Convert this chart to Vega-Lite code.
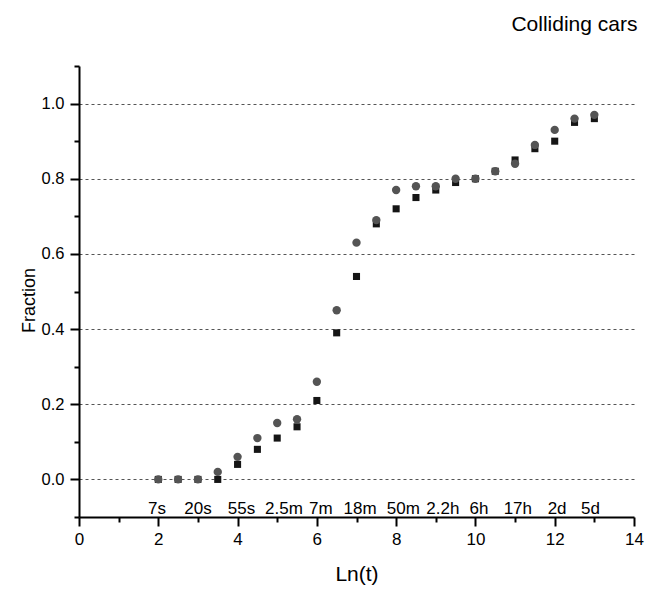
{
  "$schema": "https://vega.github.io/schema/vega-lite/v6.json",
  "autosize": {"type": "none"},
  "width": 555,
  "height": 451,
  "padding": {"left": 79, "top": 66, "right": 11, "bottom": 72},
  "background": "white",
  "config": {"font": "Liberation Sans", "view": {"stroke": null}},
  "title": {"text": "Colliding cars", "anchor": "end", "fontSize": 21, "fontWeight": "normal", "color": "#000", "font": "Liberation Sans", "baseline": "alphabetic", "offset": 13, "dx": -6},
  "datasets": {
    "points": [
      {"lnt": 2.0, "fraction": 0.00, "series": "square"},
      {"lnt": 2.5, "fraction": 0.00, "series": "square"},
      {"lnt": 3.0, "fraction": 0.00, "series": "square"},
      {"lnt": 3.5, "fraction": 0.00, "series": "square"},
      {"lnt": 4.0, "fraction": 0.04, "series": "square"},
      {"lnt": 4.5, "fraction": 0.08, "series": "square"},
      {"lnt": 5.0, "fraction": 0.11, "series": "square"},
      {"lnt": 5.5, "fraction": 0.14, "series": "square"},
      {"lnt": 6.0, "fraction": 0.21, "series": "square"},
      {"lnt": 6.5, "fraction": 0.39, "series": "square"},
      {"lnt": 7.0, "fraction": 0.54, "series": "square"},
      {"lnt": 7.5, "fraction": 0.68, "series": "square"},
      {"lnt": 8.0, "fraction": 0.72, "series": "square"},
      {"lnt": 8.5, "fraction": 0.75, "series": "square"},
      {"lnt": 9.0, "fraction": 0.77, "series": "square"},
      {"lnt": 9.5, "fraction": 0.79, "series": "square"},
      {"lnt": 10.0, "fraction": 0.80, "series": "square"},
      {"lnt": 10.5, "fraction": 0.82, "series": "square"},
      {"lnt": 11.0, "fraction": 0.85, "series": "square"},
      {"lnt": 11.5, "fraction": 0.88, "series": "square"},
      {"lnt": 12.0, "fraction": 0.90, "series": "square"},
      {"lnt": 12.5, "fraction": 0.95, "series": "square"},
      {"lnt": 13.0, "fraction": 0.96, "series": "square"},
      {"lnt": 2.0, "fraction": 0.00, "series": "circle"},
      {"lnt": 2.5, "fraction": 0.00, "series": "circle"},
      {"lnt": 3.0, "fraction": 0.00, "series": "circle"},
      {"lnt": 3.5, "fraction": 0.02, "series": "circle"},
      {"lnt": 4.0, "fraction": 0.06, "series": "circle"},
      {"lnt": 4.5, "fraction": 0.11, "series": "circle"},
      {"lnt": 5.0, "fraction": 0.15, "series": "circle"},
      {"lnt": 5.5, "fraction": 0.16, "series": "circle"},
      {"lnt": 6.0, "fraction": 0.26, "series": "circle"},
      {"lnt": 6.5, "fraction": 0.45, "series": "circle"},
      {"lnt": 7.0, "fraction": 0.63, "series": "circle"},
      {"lnt": 7.5, "fraction": 0.69, "series": "circle"},
      {"lnt": 8.0, "fraction": 0.77, "series": "circle"},
      {"lnt": 8.5, "fraction": 0.78, "series": "circle"},
      {"lnt": 9.0, "fraction": 0.78, "series": "circle"},
      {"lnt": 9.5, "fraction": 0.80, "series": "circle"},
      {"lnt": 10.0, "fraction": 0.80, "series": "circle"},
      {"lnt": 10.5, "fraction": 0.82, "series": "circle"},
      {"lnt": 11.0, "fraction": 0.84, "series": "circle"},
      {"lnt": 11.5, "fraction": 0.89, "series": "circle"},
      {"lnt": 12.0, "fraction": 0.93, "series": "circle"},
      {"lnt": 12.5, "fraction": 0.96, "series": "circle"},
      {"lnt": 13.0, "fraction": 0.97, "series": "circle"}
    ],
    "labels": [
      {"lnt": 1.97, "fraction": -0.093, "label": "7s"},
      {"lnt": 3.0, "fraction": -0.093, "label": "20s"},
      {"lnt": 4.1, "fraction": -0.093, "label": "55s"},
      {"lnt": 5.17, "fraction": -0.093, "label": "2.5m"},
      {"lnt": 6.1, "fraction": -0.093, "label": "7m"},
      {"lnt": 7.09, "fraction": -0.093, "label": "18m"},
      {"lnt": 8.18, "fraction": -0.093, "label": "50m"},
      {"lnt": 9.18, "fraction": -0.093, "label": "2.2h"},
      {"lnt": 10.09, "fraction": -0.093, "label": "6h"},
      {"lnt": 11.07, "fraction": -0.093, "label": "17h"},
      {"lnt": 12.06, "fraction": -0.093, "label": "2d"},
      {"lnt": 12.9, "fraction": -0.093, "label": "5d"}
    ]
  },
  "encoding": {
    "x": {
      "field": "lnt", "type": "quantitative",
      "scale": {"domain": [0, 14], "nice": false, "zero": false},
      "axis": {
        "title": "Ln(t)", "titleFontSize": 21, "titleFontWeight": "normal", "titleColor": "#000",
        "titleBaseline": "alphabetic", "titleY": 63,
        "values": [0, 1, 2, 3, 4, 5, 6, 7, 8, 9, 10, 11, 12, 13, 14],
        "labelExpr": "datum.value % 2 === 0 ? datum.label : ''",
        "labelFontSize": 17, "labelColor": "#000", "labelPadding": 5, "labelFlush": false,
        "tickSize": {"condition": {"test": "datum.value % 2 === 0", "value": 9}, "value": 5},
        "tickColor": "#000", "tickWidth": 2,
        "domainColor": "#000", "domainWidth": 2,
        "grid": false
      }
    },
    "y": {
      "field": "fraction", "type": "quantitative",
      "scale": {"domain": [-0.1, 1.1], "nice": false, "zero": false},
      "axis": {
        "title": "Fraction", "titleFontSize": 18, "titleFontWeight": "normal", "titleColor": "#000",
        "titleBaseline": "alphabetic", "titleX": -45, "titleY": 234,
        "values": [-0.1, 0, 0.1, 0.2, 0.3, 0.4, 0.5, 0.6, 0.7, 0.8, 0.9, 1.0, 1.1],
        "format": ".1f",
        "labelExpr": "round(datum.value * 10) % 2 === 0 ? datum.label : ''",
        "labelFontSize": 16.5, "labelColor": "#000", "labelPadding": 6,
        "tickSize": {"condition": {"test": "round(datum.value * 10) % 2 === 0", "value": 9}, "value": 5},
        "tickColor": "#000", "tickWidth": 2,
        "domainColor": "#000", "domainWidth": 2,
        "grid": true, "gridColor": "#555", "gridDash": [3, 3], "gridWidth": 1,
        "gridOpacity": {"condition": {"test": "round(datum.value * 10) % 2 === 0 && datum.value > -0.05 && datum.value < 1.05", "value": 1}, "value": 0}
      }
    }
  },
  "layer": [
    {
      "data": {"name": "points"},
      "transform": [{"filter": "datum.series === 'square'"}],
      "mark": {"type": "point", "shape": "square", "filled": true, "size": 50, "color": "#151515", "opacity": 1}
    },
    {
      "data": {"name": "points"},
      "transform": [{"filter": "datum.series === 'circle'"}],
      "mark": {"type": "point", "shape": "circle", "filled": true, "size": 70, "color": "#545454", "opacity": 1}
    },
    {
      "data": {"name": "labels"},
      "mark": {"type": "text", "fontSize": 17, "color": "#000", "align": "center", "baseline": "alphabetic"},
      "encoding": {"text": {"field": "label"}}
    }
  ]
}
